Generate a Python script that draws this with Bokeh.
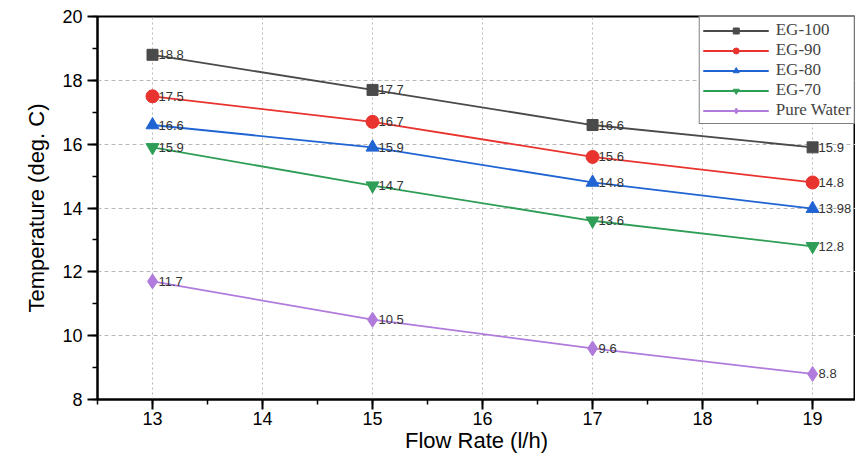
from bokeh.plotting import figure
from bokeh.models import ColumnDataSource, Legend, LegendItem, Range1d, SingleIntervalTicker
from bokeh.core.properties import value
from bokeh.embed import file_html
from bokeh.resources import INLINE

flow_rate = [13, 15, 17, 19]
eg100 = [18.8, 17.7, 16.6, 15.9]
eg90 = [17.5, 16.7, 15.6, 14.8]
eg80 = [16.6, 15.9, 14.8, 13.98]
eg70 = [15.9, 14.7, 13.6, 12.8]
pure_water = [11.7, 10.5, 9.6, 8.8]
series_names = ["EG-100", "EG-90", "EG-80", "EG-70", "Pure Water"]

colors = ["#4a4a4a", "#e8332e", "#1f64d2", "#2e9e57", "#b07bdc"]
markers = ["square", "circle", "triangle", "inverted_triangle", "diamond"]
sizes = [11, 13, 13, 13, 15]

p = figure(width=855, height=455, output_backend="svg", toolbar_location=None,
           x_range=Range1d(12.5, 19.39), y_range=Range1d(8, 20),
           min_border_left=97, min_border_right=0, min_border_top=16, min_border_bottom=50)

p.outline_line_color = "black"
p.outline_line_width = 2
p.background_fill_color = "white"

for ax, lbl in ((p.xaxis[0], "Flow Rate (l/h)"), (p.yaxis[0], "Temperature (deg. C)")):
    ax.axis_label = lbl
    ax.axis_label_text_font = "Liberation Sans"
    ax.axis_label_text_font_style = "normal"
    ax.axis_label_text_font_size = "22px"
    ax.axis_label_text_color = "black"
    ax.major_label_text_font = "Liberation Sans"
    ax.major_label_text_font_size = "18px"
    ax.major_label_text_color = "black"
    ax.axis_line_width = 2
    ax.axis_line_color = "black"
    ax.major_tick_line_width = 2
    ax.minor_tick_line_width = 1.5
    ax.major_tick_out = 10
    ax.major_tick_in = 0
    ax.minor_tick_out = 5
    ax.minor_tick_in = 0

p.xaxis[0].ticker = SingleIntervalTicker(interval=1, num_minor_ticks=2)
p.yaxis[0].ticker = SingleIntervalTicker(interval=2, num_minor_ticks=2)
p.xaxis[0].axis_label_standoff = 0
p.yaxis[0].axis_label_standoff = 10
p.xaxis[0].major_label_standoff = 2
p.yaxis[0].major_label_standoff = 5

p.xgrid.grid_line_color = "#b8b8b8"
p.xgrid.grid_line_dash = "2 3"
p.ygrid.grid_line_color = "#b8b8b8"
p.ygrid.grid_line_dash = "4 3"
p.xgrid.ticker = SingleIntervalTicker(interval=1)
p.ygrid.ticker = SingleIntervalTicker(interval=2)

all_series = [eg100, eg90, eg80, eg70, pure_water]
items = []
for name, ys, c, m, s in zip(series_names, all_series, colors, markers, sizes):
    src = ColumnDataSource(dict(x=flow_rate, y=ys, lbl=[("%g" % v) for v in ys]))
    r1 = p.line("x", "y", source=src, line_color=c, line_width=1.8)
    r2 = p.scatter("x", "y", source=src, marker=m, size=s, fill_color=c, line_color=c)
    p.text("x", "y", text="lbl", source=src, x_offset=6, text_baseline="middle",
           text_font=value("Liberation Sans"), text_font_size="13px", text_color="#333333")
    items.append(LegendItem(label=name, renderers=[r1, r2]))

legend = Legend(items=items, location="top_right")
legend.label_text_font = "Liberation Serif"
legend.label_text_font_size = "17px"
legend.label_height = 15
legend.glyph_height = 15
legend.glyph_width = 66
legend.spacing = 0
legend.padding = 3
legend.margin = 0
legend.border_line_color = "black"
legend.border_line_width = 1
legend.label_standoff = 7
legend.background_fill_alpha = 1
p.add_layout(legend)

open("out.html", "w").write(file_html(p, INLINE))
